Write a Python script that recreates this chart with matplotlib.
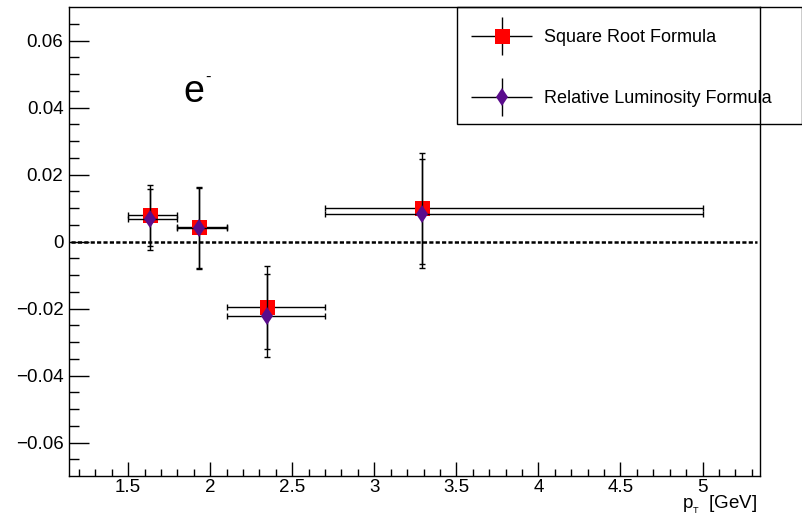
import numpy as np
import matplotlib
matplotlib.use("Agg")
import matplotlib.pyplot as plt
from matplotlib.container import ErrorbarContainer
from matplotlib.legend_handler import HandlerErrorbar
from matplotlib.patches import Rectangle

plt.rcParams['font.family'] = ['Liberation Sans', 'DejaVu Sans']
plt.rcParams['mathtext.fontset'] = 'custom'
plt.rcParams['mathtext.rm'] = 'Liberation Sans'
plt.rcParams['mathtext.it'] = 'Liberation Sans'
plt.rcParams['lines.scale_dashes'] = False

# pT bins [GeV]
bin_lo = np.array([1.5, 1.8, 2.1, 2.7])
bin_hi = np.array([1.8, 2.1, 2.7, 5.0])
pt_mean = np.array([1.634, 1.933, 2.348, 3.29])

# square root formula
sqrt_val = np.array([0.0078, 0.0042, -0.0197, 0.0099])
sqrt_err = np.array([0.0090, 0.0120, 0.0125, 0.0165])

# relative luminosity formula
rel_val = np.array([0.0066, 0.0039, -0.0221, 0.0083])
rel_err = np.array([0.0092, 0.0122, 0.0125, 0.0162])

xerr = np.array([pt_mean - bin_lo, bin_hi - pt_mean])

fig = plt.figure(figsize=(8.02, 5.2), dpi=100)
ax = fig.add_axes([69/802, 1-476/520, 691/802, 469/520])

ax.plot([1.15, 5.33], [0, 0], color='black', lw=1.8, linestyle=(0, (3, 1.6)), zorder=1)

h1 = ax.errorbar(pt_mean, sqrt_val, xerr=xerr, yerr=sqrt_err, fmt='s', color='black',
                 mfc='#ff0000', mec='#ff0000', ms=10.8, elinewidth=1.0,
                 capsize=2.5, capthick=1.0, zorder=2)
h2 = ax.errorbar(pt_mean, rel_val, xerr=xerr, yerr=rel_err, fmt='d', color='black',
                 mfc='#5a0c8c', mec='#5a0c8c', ms=9.6, elinewidth=1.0,
                 capsize=2.5, capthick=1.0, zorder=3)
h1[0].set_markeredgewidth(0)
h2[0].set_markeredgewidth(0)

ax.set_xlim(1.14, 5.35)
ax.set_ylim(-0.07, 0.07)
ax.set_xticks([1.5, 2, 2.5, 3, 3.5, 4, 4.5, 5])
ax.set_xticklabels(['1.5', '2', '2.5', '3', '3.5', '4', '4.5', '5'])
ax.set_xticks(np.arange(1.2, 5.35, 0.1), minor=True)
ax.set_yticks([-0.06, -0.04, -0.02, 0, 0.02, 0.04, 0.06])
ax.set_yticklabels(['\u22120.06', '\u22120.04', '\u22120.02', '0', '0.02', '0.04', '0.06'])
ax.set_yticks(np.arange(-0.065, 0.0651, 0.005), minor=True)

ax.tick_params(axis='both', which='both', direction='in', labelsize=13.5, width=1.0)
ax.tick_params(axis='y', which='major', length=14.4, pad=4)
ax.tick_params(axis='y', which='minor', length=7.2)
ax.tick_params(axis='x', which='major', length=10, pad=2)
ax.tick_params(axis='x', which='minor', length=5)
for s in ax.spines.values():
    s.set_linewidth(1.0)

ax.text(0.9957, -0.0704, 'p$_{_\\mathrm{T}}$\u2002[GeV]', transform=ax.transAxes,
        ha='right', va='baseline', fontsize=13.5)
ax.text(0.165, 0.797, 'e', transform=ax.transAxes,
        ha='left', va='baseline', fontsize=27)
ax.text(0.197, 0.8394, '-', transform=ax.transAxes,
        ha='left', va='baseline', fontsize=12)

# legend box
fig.patches.append(Rectangle((457/802, 1-124/520), 345/802, 117/520,
                             transform=fig.transFigure, fill=False,
                             edgecolor='black', lw=1.0, zorder=5))
hl1 = ErrorbarContainer((h1[0], (), h1[2]), has_xerr=True, has_yerr=True,
                        label='Square Root Formula')
hl2 = ErrorbarContainer((h2[0], (), h2[2]), has_xerr=True, has_yerr=True,
                        label='Relative Luminosity Formula')
fig.legend(handles=[hl1, hl2], loc='upper left', bbox_to_anchor=(471/802, 1-29/520),
           frameon=False, fontsize=13, borderpad=0, borderaxespad=0,
           handlelength=3.38, handletextpad=0.66, labelspacing=2.46,
           handler_map={ErrorbarContainer: HandlerErrorbar(xerr_size=1.69, yerr_size=1.05,
                                                           numpoints=1)})

fig.savefig('out.png', dpi=100)
